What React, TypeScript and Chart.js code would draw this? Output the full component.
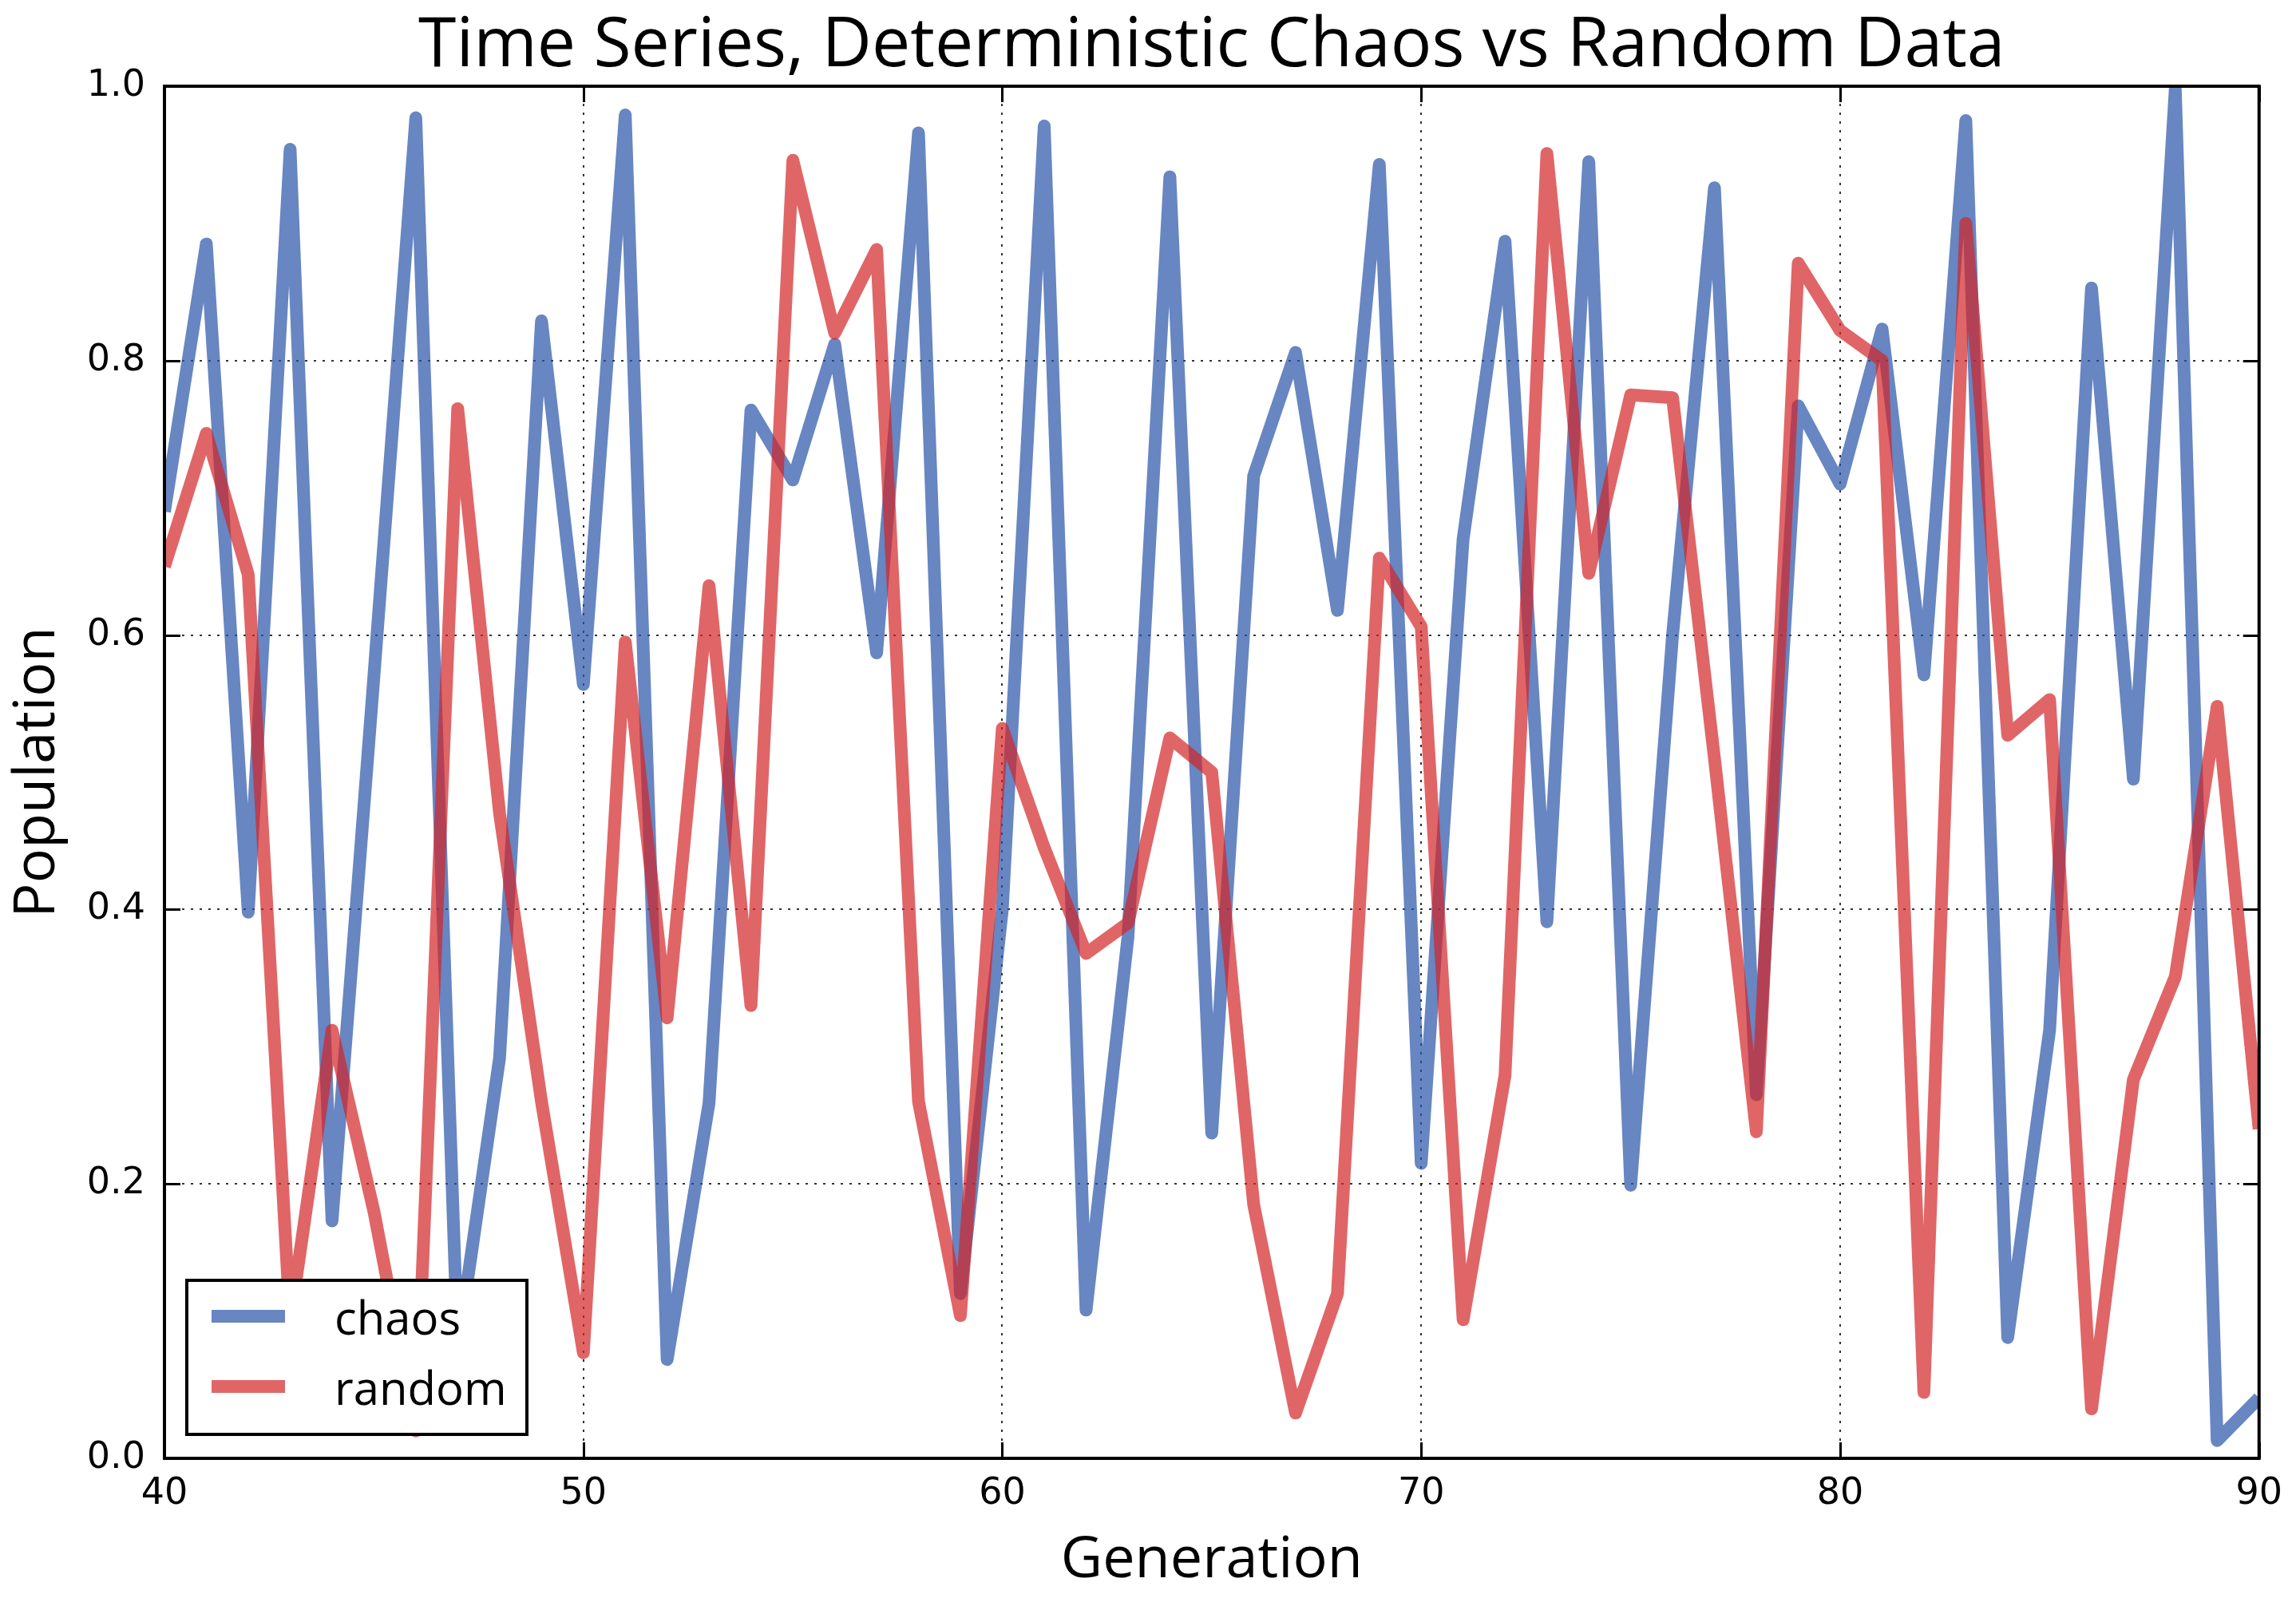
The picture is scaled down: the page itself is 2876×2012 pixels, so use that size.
import React, { useEffect, useRef } from "react";
import { Chart, registerables } from "chart.js";

Chart.register(...registerables);

const titleText = "Time Series, Deterministic Chaos vs Random Data";
const xLabel = "Generation";
const yLabel = "Population";

const generations = [
  40, 41, 42, 43, 44, 45, 46, 47, 48, 49,
  50, 51, 52, 53, 54, 55, 56, 57, 58, 59,
  60, 61, 62, 63, 64, 65, 66, 67, 68, 69,
  70, 71, 72, 73, 74, 75, 76, 77, 78, 79,
  80, 81, 82, 83, 84, 85, 86, 87, 88, 89,
  90,
];

const chaos = [
  0.69, 0.885, 0.398, 0.954, 0.173, 0.57, 0.977, 0.08, 0.292, 0.829,
  0.564, 0.979, 0.072, 0.259, 0.764, 0.713, 0.812, 0.587, 0.966, 0.12,
  0.40, 0.971, 0.108, 0.38, 0.934, 0.237, 0.716, 0.806, 0.618, 0.943,
  0.215, 0.67, 0.887, 0.391, 0.945, 0.199, 0.60, 0.926, 0.265, 0.767,
  0.71, 0.823, 0.571, 0.975, 0.088, 0.312, 0.853, 0.495, 0.998, 0.013,
  0.044,
];

const random = [
  0.65, 0.747, 0.644, 0.10, 0.312, 0.18, 0.02, 0.765, 0.47, 0.26,
  0.077, 0.595, 0.321, 0.636, 0.33, 0.946, 0.82, 0.881, 0.26, 0.104,
  0.532, 0.445, 0.368, 0.39, 0.525, 0.50, 0.185, 0.033, 0.12, 0.656,
  0.606, 0.101, 0.279, 0.951, 0.645, 0.775, 0.773, 0.51, 0.238, 0.871,
  0.822, 0.80, 0.048, 0.90, 0.527, 0.553, 0.036, 0.276, 0.351, 0.548,
  0.24,
];

const seriesLabels = ["chaos", "random"];
const seriesColors = ["rgba(38,82,168,0.7)", "rgba(211,36,39,0.7)"];

const decorPlugin = {
  id: "mplDecor",
  afterDraw(chart: any) {
    const { ctx, chartArea: a, scales } = chart;
    ctx.save();
    // inward ticks on all four sides
    ctx.strokeStyle = "#000";
    ctx.lineWidth = 3;
    const tl = 20;
    ctx.beginPath();
    for (const t of scales.x.ticks) {
      const px = Math.round(scales.x.getPixelForValue(t.value)) + 0.5;
      ctx.moveTo(px, a.bottom);
      ctx.lineTo(px, a.bottom - tl);
      ctx.moveTo(px, a.top);
      ctx.lineTo(px, a.top + tl);
    }
    for (const t of scales.y.ticks) {
      const py = Math.round(scales.y.getPixelForValue(t.value)) + 0.5;
      ctx.moveTo(a.left, py);
      ctx.lineTo(a.left + tl, py);
      ctx.moveTo(a.right, py);
      ctx.lineTo(a.right - tl, py);
    }
    ctx.stroke();
    // frame
    ctx.lineWidth = 4;
    ctx.strokeRect(a.left, a.top, a.right - a.left, a.bottom - a.top);

    // legend box (lower left, inside axes)
    const lw = 426;
    const lh = 193;
    const lx = a.left + 28;
    const ly = a.bottom - 30 - lh;
    ctx.fillStyle = "#fff";
    ctx.fillRect(lx, ly, lw, lh);
    ctx.strokeStyle = "#000";
    ctx.lineWidth = 4;
    ctx.strokeRect(lx, ly, lw, lh);
    const rows = [ly + 45, ly + 133];
    chart.data.datasets.forEach((ds: any, i: number) => {
      const ry = rows[i];
      ctx.strokeStyle = ds.borderColor;
      ctx.lineWidth = 16;
      ctx.lineCap = "butt";
      ctx.beginPath();
      ctx.moveTo(lx + 31, ry);
      ctx.lineTo(lx + 123, ry);
      ctx.stroke();
      ctx.fillStyle = "#000";
      ctx.font = "58px 'Open Sans'";
      ctx.textAlign = "left";
      ctx.textBaseline = "alphabetic";
      ctx.fillText(ds.label, lx + 185, ry + 23);
    });

    // title centred over the plot area
    ctx.fillStyle = "#000";
    ctx.font = "86px 'Open Sans'";
    ctx.textAlign = "center";
    ctx.textBaseline = "alphabetic";
    ctx.fillText(titleText, (a.left + a.right) / 2, 83);
    ctx.restore();
  },
};

export default function App() {
  const ref = useRef<HTMLCanvasElement | null>(null);

  useEffect(() => {
    if (!ref.current) return;
    const chart = new Chart(ref.current, {
      type: "line",
      data: {
        datasets: [
          {
            label: seriesLabels[0],
            data: generations.map((g, i) => ({ x: g, y: chaos[i] })),
            borderColor: seriesColors[0],
            backgroundColor: seriesColors[0],
            borderWidth: 16,
            pointRadius: 0,
            tension: 0,
            clip: 0,
            borderJoinStyle: "round",
            order: 1,
          },
          {
            label: seriesLabels[1],
            data: generations.map((g, i) => ({ x: g, y: random[i] })),
            borderColor: seriesColors[1],
            backgroundColor: seriesColors[1],
            borderWidth: 16,
            pointRadius: 0,
            tension: 0,
            clip: 0,
            borderJoinStyle: "round",
            order: 0,
          },
        ],
      },
      options: {
        animation: false,
        responsive: false,
        events: [],
        layout: { padding: { top: 108, right: 38, left: 0, bottom: 0 } },
        plugins: {
          legend: { display: false },
          tooltip: { enabled: false },
          title: { display: false },
        },
        scales: {
          x: {
            type: "linear",
            min: 40,
            max: 90,
            z: 1,
            afterFit: (s: any) => {
              s.height = 185;
            },
            ticks: {
              stepSize: 10,
              padding: 17,
              color: "#000",
              font: { family: "'DejaVu Sans'", size: 46 },
              callback: (v: any) => String(v),
            },
            grid: {
              color: "rgba(0,0,0,0.8)",
              lineWidth: 2,
              drawTicks: false,
            },
            border: { display: false, dash: [3, 8] },
            title: {
              display: true,
              text: xLabel,
              color: "#000",
              font: { family: "'Open Sans'", size: 72 },
              padding: { top: 0, bottom: 13 },
            },
          },
          y: {
            type: "linear",
            min: 0,
            max: 1,
            z: 1,
            afterFit: (s: any) => {
              s.width = 206;
            },
            ticks: {
              stepSize: 0.2,
              padding: 24,
              color: "#000",
              font: { family: "'DejaVu Sans'", size: 46 },
              callback: (v: any) => Number(v).toFixed(1),
            },
            grid: {
              color: "rgba(0,0,0,0.8)",
              lineWidth: 2,
              drawTicks: false,
            },
            border: { display: false, dash: [3, 8] },
            title: {
              display: true,
              text: yLabel,
              color: "#000",
              font: { family: "'Open Sans'", size: 72 },
              padding: { top: 4, bottom: 0 },
            },
          },
        },
      },
      plugins: [decorPlugin],
    } as any);
    return () => chart.destroy();
  }, []);

  return (
    <div
      style={{
        position: "absolute",
        left: 0,
        top: 0,
        width: 2876,
        height: 2012,
        background: "#fff",
      }}
    >
      <canvas ref={ref} width={2876} height={2012} style={{ display: "block" }} />
    </div>
  );
}
